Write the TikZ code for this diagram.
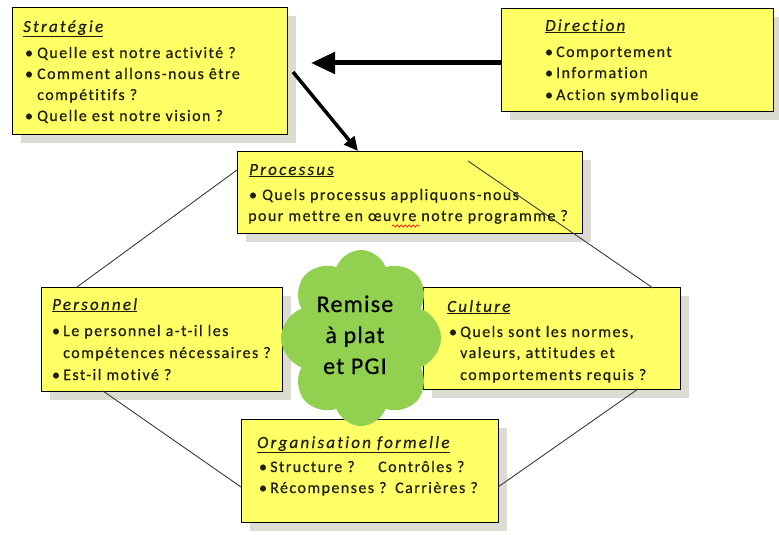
\documentclass[tikz,border=0pt]{standalone}
\usepackage{fontspec}
\setmainfont{Carlito}[LetterSpace=9, Ligatures=NoCommon, FakeBold=0.5]
\newfontfamily\ttlfont{Carlito}[LetterSpace=13, Ligatures=NoCommon, FakeBold=0.5]
\newfontfamily\cloudfont{Carlito}[LetterSpace=5, Ligatures=NoCommon, FakeBold=0.5]
\usetikzlibrary{shadows,shapes.symbols,decorations.pathmorphing,arrows.meta}
\definecolor{boxyellow}{RGB}{255,255,102}
\definecolor{shgray}{RGB}{220,220,212}
\definecolor{cloudgreen}{RGB}{146,208,80}
\definecolor{txt}{RGB}{30,30,10}
\definecolor{linegray}{RGB}{60,60,60}
\begin{document}
\begin{tikzpicture}[x=1pt,y=-1pt,
  box/.style={draw=black, line width=1.1pt, fill=boxyellow, rectangle, inner sep=0pt,
    anchor=north west, general shadow={fill=shgray, shadow xshift=8pt, shadow yshift=-8pt}},
  txtline/.style={anchor=base west, inner sep=0pt, text=txt, font=\fontsize{16}{19}\selectfont},
  bul/.style={anchor=base, inner sep=0pt, text=txt, font=\fontsize{16}{19}\selectfont},
  ttl/.style={anchor=base west, inner sep=0pt, text=txt, font=\ttlfont\itshape\fontsize{17}{20}\selectfont},
  thinline/.style={draw=linegray, line width=0.9pt},
  bigarrow/.style={line width=5pt, -{Triangle[length=24pt,width=21pt]}},
  medarrow/.style={line width=3.5pt, -{Triangle[length=14pt,width=13pt]}},
  cloudtext/.style={anchor=base, inner sep=0pt, text=black, font=\cloudfont\fontsize{24}{31}\selectfont}
]
\useasboundingbox (0,0) rectangle (779,535);
\fill[white] (0,0) rectangle (779,535);

% boxes
\node[box, minimum width=275pt, minimum height=127pt] (strat) at (12,7) {};
\node[box, minimum width=272pt, minimum height=103pt] (dir) at (501,8) {};
\node[box, minimum width=345pt, minimum height=82pt] (proc) at (237,151) {};
\node[box, minimum width=241pt, minimum height=104pt] (pers) at (41,287) {};
\node[box, minimum width=257pt, minimum height=102pt] (cult) at (423,287) {};
\node[box, minimum width=257pt, minimum height=103pt] (orga) at (241,419) {};

% connector end points
\coordinate (aTip) at (311,63);
\coordinate (aStart) at (501,63);
\coordinate (bStart) at (293,72);
\coordinate (bTip) at (358,151);
\coordinate (pL) at (237,170);
\coordinate (persT) at (77,287);
\coordinate (pR) at (468,161);
\coordinate (cultT) at (653,288);
\coordinate (persB) at (103,391);
\coordinate (orgaL) at (241,487);
\coordinate (cultB) at (638,389);
\coordinate (orgaR) at (498,487);
\coordinate (tickA) at (357,253);
\coordinate (tickB) at (357,262);

% thick arrows
\draw[bigarrow] (aStart) -- (aTip);
\draw[medarrow] (bStart) -- (bTip);

% thin lines
\draw[thinline] (pL) -- (persT);
\draw[thinline] (pR) -- (cultT);
\draw[thinline] (persB) -- (orgaL);
\draw[thinline] (cultB) -- (orgaR);
\draw[line width=1.5pt] (tickA) -- (tickB);

% Strategie
\node[ttl] (st0) at (23,32) {\underline{Stratégie}};
\node[bul] (sb1) at (29,58) {•};
\node[txtline] (st1) at (37,58) {Quelle est notre activité ?};
\node[bul] (sb2) at (29,79) {•};
\node[txtline] (st2) at (37,79) {Comment allons-nous être};
\node[txtline] (st3) at (37,100) {compétitifs ?};
\node[bul] (sb4) at (29,121) {•};
\node[txtline] (st4) at (37,121) {Quelle est notre vision ?};

% Direction
\node[ttl] (dt0) at (545,31) {\underline{Direction}};
\node[bul] (db1) at (549,57) {•};
\node[txtline] (dt1) at (556,57) {Comportement};
\node[bul] (db2) at (549,78) {•};
\node[txtline] (dt2) at (556,78) {Information};
\node[bul] (db3) at (549,100) {•};
\node[txtline] (dt3) at (556,100) {Action symbolique};

% Processus
\node[ttl] (pt0) at (249,175) {\underline{Processus}};
\node[bul] (pb1) at (253,200) {•};
\node[txtline] (pt1) at (262,200) {Quels processus appliquons-nous};
\node[txtline] (pt2) at (248,221) {pour mettre en œuvre notre programme ?};
\draw[red, line width=0.6pt, decorate, decoration={snake, amplitude=1.2pt, segment length=4pt}] (392,226) -- (420,226);

% Personnel
\node[ttl] (et0) at (52,310) {\underline{Personnel}};
\node[bul] (eb1) at (56,336) {•};
\node[txtline] (et1) at (63,336) {Le personnel a-t-il les};
\node[txtline] (et2) at (63,358) {compétences nécessaires ?};
\node[bul] (eb3) at (56,380) {•};
\node[txtline] (et3) at (63,380) {Est-il motivé ?};

% Culture
\node[ttl] (ct0) at (447,312) {\underline{Culture}};
\node[bul] (cb1) at (453,337) {•};
\node[txtline] (ct1) at (460,337) {Quels sont les normes,};
\node[txtline] (ct2) at (460,358) {valeurs, attitudes et};
\node[txtline] (ct3) at (460,380) {comportements requis ?};

% Organisation formelle
\node[ttl] (ot0) at (257,448) {\underline{Organisation formelle}};
\node[bul] (ob1) at (263,472) {•};
\node[txtline] (ot1) at (270,472) {Structure ?};
\node[txtline] (ot2) at (378,472) {Contrôles ?};
\node[bul] (ob3) at (263,493) {•};
\node[txtline] (ot3) at (270,493) {Récompenses ?};
\node[txtline] (ot4) at (395,493) {Carrières ?};

% cloud
\node[cloud, cloud puffs=8, cloud puff arc=140, cloud ignores aspect, minimum width=160pt, minimum height=176pt,
  fill=cloudgreen, draw=none, inner sep=0pt] (pgi) at (361,338) {};
\node[cloudtext] (c1) at (355,312) {Remise};
\node[cloudtext] (c2) at (355,343) {à plat};
\node[cloudtext] (c3) at (355,374) {et PGI};
\end{tikzpicture}
\end{document}
